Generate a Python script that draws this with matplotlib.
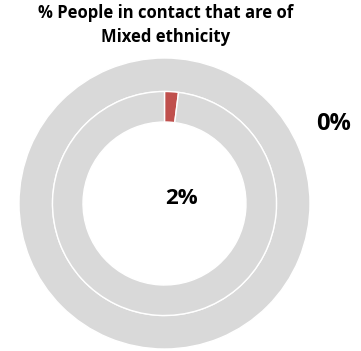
import matplotlib.pyplot as plt

# values
title = "% People in contact that are of\nMixed ethnicity"
outer_pct = 0   # outer ring
inner_pct = 2   # inner ring

red = '#C0504D'
grey = '#D9D9D9'

plt.rcParams['font.family'] = ['Open Sans', 'DejaVu Sans']

fig = plt.figure(figsize=(3.61, 3.51), dpi=100)
ax = fig.add_axes([0, 0, 1, 1])

# pixel-like data coords, y measured from the bottom
cx, cy = 164.5, 351 - 203.5

ax.pie([outer_pct, 100 - outer_pct], colors=[red, grey], radius=145.5,
       center=(cx, cy), startangle=90, counterclock=False,
       wedgeprops=dict(width=33.5, edgecolor='white', linewidth=1.0))
ax.pie([inner_pct, 100 - inner_pct], colors=[red, grey], radius=112,
       center=(cx, cy), startangle=90, counterclock=False,
       wedgeprops=dict(width=30.5, edgecolor='white', linewidth=1.0))

ax.set_xlim(0, 361)
ax.set_ylim(0, 351)
ax.set_aspect('equal')
ax.axis('off')

ax.text(181, 351 - 198, f"{inner_pct}%", ha='center', va='center',
        fontsize=16, fontweight='bold')
ax.text(334, 351 - 124, f"{outer_pct}%", ha='center', va='center',
        fontsize=17, fontweight='bold')
fig.text(166 / 361, 1 - 25 / 351, title, ha='center', va='center',
         fontsize=12, fontweight='bold', linespacing=1.38)

fig.savefig('out.png', dpi=100)
